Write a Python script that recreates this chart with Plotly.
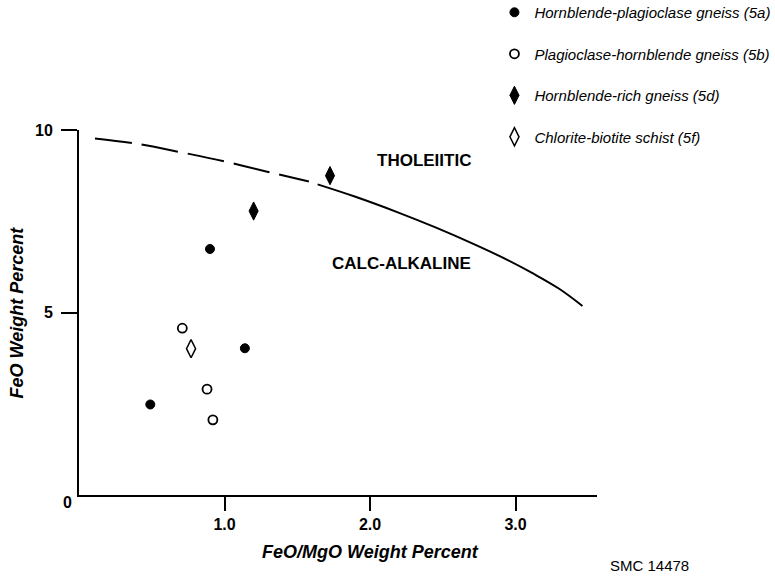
import plotly.graph_objects as go

# Data
series_names = [
    "Hornblende-plagioclase gneiss (5a)",
    "Plagioclase-hornblende gneiss (5b)",
    "Hornblende-rich gneiss (5d)",
    "Chlorite-biotite schist (5f)",
]
x_5a = [0.49, 0.90, 1.14]
y_5a = [2.48, 6.74, 4.02]
x_5b = [0.71, 0.88, 0.92]
y_5b = [4.57, 2.90, 2.06]
x_5d = [1.20, 1.725]
y_5d = [7.78, 8.75]
x_5f = [0.77]
y_5f = [4.01]

# Tholeiitic / calc-alkaline dividing curve
curve_dash_x = [0.11, 0.40, 0.70, 1.00, 1.30, 1.58]
curve_dash_y = [9.77, 9.62, 9.39, 9.14, 8.85, 8.59]
curve_solid_x = [1.64, 1.90, 2.20, 2.45, 2.71, 2.95, 3.12, 3.30, 3.46]
curve_solid_y = [8.51, 8.17, 7.73, 7.33, 6.88, 6.43, 6.07, 5.65, 5.18]

x_tick_vals = [1, 2, 3]
x_tick_text = ["1.0", "2.0", "3.0"]
y_tick_vals = [5, 10]
y_tick_text = ["5", "10"]

FONT = "Liberation Sans, Arial, Helvetica, sans-serif"

fig = go.Figure()

fig.add_trace(go.Scatter(x=curve_dash_x, y=curve_dash_y, mode="lines",
                         line=dict(color="black", width=2, dash="37px,10px", shape="spline"),
                         showlegend=False, hoverinfo="skip"))
fig.add_trace(go.Scatter(x=curve_solid_x, y=curve_solid_y, mode="lines",
                         line=dict(color="black", width=2, shape="spline"),
                         showlegend=False, hoverinfo="skip"))

marker_specs = [
    (x_5a, y_5a, dict(symbol="circle", size=9, color="black", line=dict(color="black", width=1))),
    (x_5b, y_5b, dict(symbol="circle", size=9, color="white", line=dict(color="black", width=1.8))),
    (x_5d, y_5d, dict(symbol="diamond-tall", size=13, color="black", line=dict(color="black", width=1))),
    (x_5f, y_5f, dict(symbol="diamond-tall", size=13, color="white", line=dict(color="black", width=1.5))),
]
for i, (xs, ys, mk) in enumerate(marker_specs):
    fig.add_trace(go.Scatter(x=xs, y=ys, mode="markers", marker=mk,
                             name=series_names[i], legendgroup=f"g{i}"))

annotations = [
    dict(x=2.368, y=9.17, xref="x", yref="y", text="THOLEIITIC", showarrow=False,
         font=dict(family=FONT, size=17, color="black", weight="bold")),
    dict(x=2.213, y=6.33, xref="x", yref="y", text="CALC-ALKALINE", showarrow=False,
         font=dict(family=FONT, size=17, color="black", weight="bold")),
    dict(x=0, y=0, xref="x", yref="y", text="0", showarrow=False, xanchor="center",
         yanchor="middle", xshift=-11.5, yshift=-7,
         font=dict(family=FONT, size=16, color="black", weight="bold")),
    dict(x=2.0, y=0, xref="x", yref="paper", text="FeO/MgO Weight Percent", showarrow=False,
         xanchor="center", yanchor="middle", yshift=-56.5,
         font=dict(family=FONT, size=18, color="black", weight="bold", style="italic")),
    dict(x=0, y=5, xref="paper", yref="y", text="FeO Weight Percent", showarrow=False,
         textangle=-90, xanchor="center", yanchor="middle", xshift=-63,
         font=dict(family=FONT, size=18, color="black", weight="bold", style="italic")),
    dict(x=1, y=0, xref="paper", yref="paper", text="SMC 14478", showarrow=False,
         xanchor="center", yanchor="middle", xshift=52, yshift=-70.5,
         font=dict(family=FONT, size=15, color="black")),
]

fig.update_layout(
    width=775, height=580,
    margin=dict(l=79, r=178, t=130, b=84.5, autoexpand=False),
    paper_bgcolor="white", plot_bgcolor="white",
    font=dict(family=FONT, color="black"),
    showlegend=True,
    legend=dict(xref="container", yref="paper", x=0.638, y=1.367,
                xanchor="left", yanchor="top", tracegroupgap=19,
                font=dict(family=FONT, size=15, color="black", style="italic"),
                bgcolor="rgba(0,0,0,0)", itemsizing="trace"),
    annotations=annotations,
    xaxis=dict(range=[0, 3.56], showgrid=False, zeroline=False, showline=True,
               linecolor="black", linewidth=2, ticks="outside", ticklen=14, tickwidth=1.5,
               tickcolor="black", tickvals=x_tick_vals, ticktext=x_tick_text,
               tickfont=dict(family=FONT, size=16, color="black", weight="bold")),
    yaxis=dict(range=[0, 10], showgrid=False, zeroline=False, showline=True,
               linecolor="black", linewidth=2, ticks="outside", ticklen=16, tickwidth=1.5,
               tickcolor="black", tickvals=y_tick_vals, ticktext=y_tick_text,
               ticklabelstandoff=5,
               tickfont=dict(family=FONT, size=16, color="black", weight="bold")),
)

fig.write_html("out.html")
